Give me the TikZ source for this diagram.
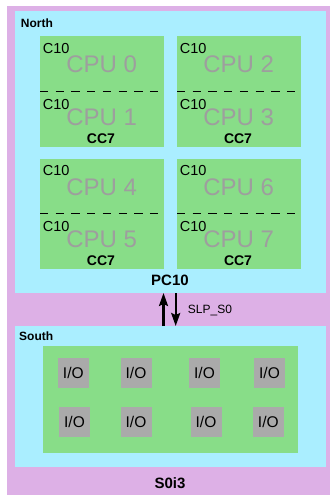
\documentclass[tikz,border=0pt]{standalone}
\usepackage{fontspec}
\setmainfont{Liberation Sans}
\usetikzlibrary{arrows.meta}
\definecolor{purp}{HTML}{DDB0E6}
\definecolor{lblue}{HTML}{AAEEFF}
\definecolor{cgreen}{HTML}{88DD88}
\definecolor{iogray}{HTML}{AAAAAA}
\definecolor{cputxt}{HTML}{9E9E9E}
\begin{document}
\begin{tikzpicture}[x=1pt,y=-1pt,
  box/.style={inner sep=0pt, outer sep=0pt, anchor=north west, draw=none},
  cpubox/.style={box, fill=cgreen, minimum width=124pt, minimum height=110.5pt},
  divider/.style={line width=1pt, dash pattern=on 8.3pt off 7.4pt},
  ctext/.style={inner sep=0pt, anchor=base west, font=\fontsize{14.5}{16}\selectfont},
  cputext/.style={inner sep=0pt, anchor=base, text=cputxt, font=\fontsize{24}{26}\selectfont},
  cctext/.style={inner sep=0pt, anchor=base, font=\bfseries\fontsize{14}{16}\selectfont},
  title/.style={inner sep=0pt, anchor=base west, font=\bfseries\fontsize{12}{14}\selectfont},
  state/.style={inner sep=0pt, anchor=base, font=\bfseries\fontsize{15}{17}\selectfont},
  iobox/.style={fill=iogray, inner sep=0pt, minimum width=31pt, minimum height=30pt, font=\fontsize{15.5}{17}\selectfont},
  arr/.style={line width=2.2pt, -{Stealth[length=13pt,width=9pt,inset=2pt]}}
]
\useasboundingbox (0,0) rectangle (330,495);
\fill[white] (0,0) rectangle (330,495);
\node[box, fill=purp, minimum width=323pt, minimum height=489pt] (outer) at (7,6) {};
\node[box, fill=lblue, minimum width=311pt, minimum height=282pt] (north) at (15,11) {};
\node[box, fill=lblue, minimum width=311pt, minimum height=141pt] (south) at (15,326) {};
\node[title] (northlbl) at (20.7,27.7) {North};
\node[title] (southlbl) at (19,340) {South};
\foreach \i/\dx/\dy/\a/\b in {0/0/0/0/1, 1/137/0/2/3, 2/0/122.5/4/5, 3/137/122.5/6/7} {
  \node[cpubox] (cc\i) at (40+\dx,36+\dy) {};
  \draw[divider] (40+\dx,91.3+\dy) -- (157.7+\dx,91.3+\dy);
  \node[ctext] (c10a\i) at (42.7+\dx,53.3+\dy) {C10};
  \node[ctext] (c10b\i) at (42.7+\dx,109+\dy) {C10};
  \node[cputext] (cpu\a) at (101.7+\dx,72.7+\dy) {CPU \a};
  \node[cputext] (cpu\b) at (101.7+\dx,125+\dy) {CPU \b};
  \node[cctext] (cc7\i) at (101+\dx,143.3+\dy) {CC7};
}
\node[state] (pc10) at (170,285) {PC10};
\draw[arr] ([xshift=-7pt]south.north) -- ([xshift=-7pt]north.south);
\draw[arr] ([xshift=5.2pt]north.south) -- ([xshift=5.2pt]south.north);
\node[inner sep=0pt, anchor=base west, font=\fontsize{12}{14}\selectfont] (slp) at (187.7,313.5) {SLP\_S0};
\node[box, fill=cgreen, minimum width=255.6pt, minimum height=106.7pt] (iogrp) at (42.7,346) {};
\foreach \n/\x/\y in {1/73.3/372.7, 2/136/372.7, 3/204.5/372.7, 4/269.5/372.7,
                      5/74.5/421.7, 6/136/421.7, 7/206/421.7, 8/268.3/421.7} {
  \node[iobox] (io\n) at (\x,\y) {I/O};
}
\node[state] (s0i3) at (170,488.3) {S0i3};
\end{tikzpicture}
\end{document}
